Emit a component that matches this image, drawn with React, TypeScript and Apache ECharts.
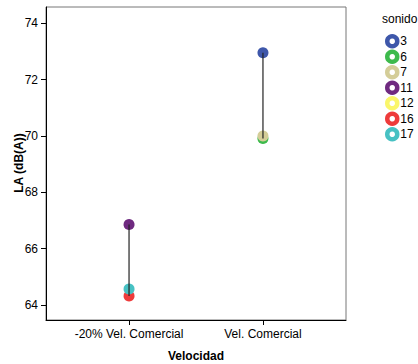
import React, { useEffect, useRef } from "react";
import * as echarts from "echarts";

const categories = ["-20% Vel. Comercial", "Vel. Comercial"];
const sonidos = ["3", "6", "7", "11", "12", "16", "17"];
const colors = ["#3e57aa", "#3dba4c", "#d4cd98", "#6f2a80", "#faf66a", "#ee3b3b", "#47c1c3"];
// values per sonido, one entry per category (null = no point)
const values: (number | null)[][] = [
  [null, 72.96],
  [null, 69.91],
  [null, 70.0],
  [66.86, null],
  [null, null],
  [64.32, null],
  [64.57, null],
];
const yTicks = [64, 66, 68, 70, 72, 74];
const yAxisTitle = "LA (dB(A))";

export default function App() {
  const ref = useRef<HTMLDivElement>(null);
  useEffect(() => {
    document.body.style.margin = "0";
    const chart = echarts.init(ref.current!, null, { renderer: "svg" });
    const font = "Liberation Sans, Arial, sans-serif";
    const scatter = sonidos.map((s, i) => ({
      name: s,
      type: "scatter",
      symbolSize: 11,
      itemStyle: { color: colors[i], opacity: 1 },
      z: 2,
      data: values[i]
        .map((v, ci) => (v == null ? null : [ci, v]))
        .filter((d) => d != null),
    }));
    const ranges = categories.map((_, ci) => {
      const vs = values.map((r) => r[ci]).filter((v) => v != null) as number[];
      return {
        type: "line",
        silent: true,
        symbol: "none",
        z: 5,
        lineStyle: { color: "#222", width: 1.2 },
        data: [
          [ci, Math.min(...vs)],
          [ci, Math.max(...vs)],
        ],
      };
    });
    chart.setOption({
      animation: false,
      textStyle: { fontFamily: font },
      title: {
        text: "sonido",
        left: 382,
        top: 13,
        padding: 0,
        textStyle: { fontSize: 12, fontWeight: "normal", color: "#000", fontFamily: font },
      },
      graphic: [
        {
          type: "text",
          x: 19,
          y: 163,
          rotation: Math.PI / 2,
          style: {
            text: yAxisTitle,
            align: "center",
            verticalAlign: "middle",
            fill: "#000",
            font: "bold 12px Liberation Sans, Arial, sans-serif",
          },
        },
      ],
      legend: {
        orient: "vertical",
        left: 385,
        top: 34,
        padding: 0,
        data: sonidos.map((s, i) => ({
          name: s,
          itemStyle: { color: "#fff", borderColor: colors[i], borderWidth: 4.5 },
        })),
        icon: "circle",
        itemWidth: 10,
        itemHeight: 10,
        itemGap: 1,
        textStyle: { fontSize: 12, lineHeight: 14, color: "#000", padding: [0, 0, 0, -2], fontFamily: font },
      },
      grid: {
        left: 46,
        right: 72,
        top: 7,
        bottom: 44,
        outerBoundsMode: "none",
        containLabel: false,
        show: true,
        borderColor: "#777",
        borderWidth: 1,
      },
      xAxis: {
        type: "value",
        min: -0.62,
        max: 1.62,
        name: "Velocidad",
        nameLocation: "middle",
        nameGap: 30,
        nameTextStyle: { fontSize: 12, fontWeight: "bold", color: "#000" },
        axisLine: { onZero: false, lineStyle: { color: "#000" } },
        axisTick: { show: true, length: 5, customValues: [0, 1], lineStyle: { color: "#000" } },
        axisLabel: {
          customValues: [0, 1],
          formatter: (v: number) => categories[Math.round(v)] ?? "",
          fontSize: 12,
          color: "#000",
          margin: 8,
        },
        splitLine: { show: false },
      },
      yAxis: {
        type: "value",
        min: 63.47,
        max: 74.58,
        axisLine: { show: true, onZero: false, lineStyle: { color: "#000" } },
        axisTick: { show: true, length: 5, customValues: yTicks, lineStyle: { color: "#000" } },
        axisLabel: { customValues: yTicks, fontSize: 12, color: "#000", margin: 8 },
        splitLine: { show: false },
      },
      series: [...scatter, ...ranges],
    });
    return () => chart.dispose();
  }, []);
  return <div ref={ref} style={{ width: 418, height: 364 }} />;
}
